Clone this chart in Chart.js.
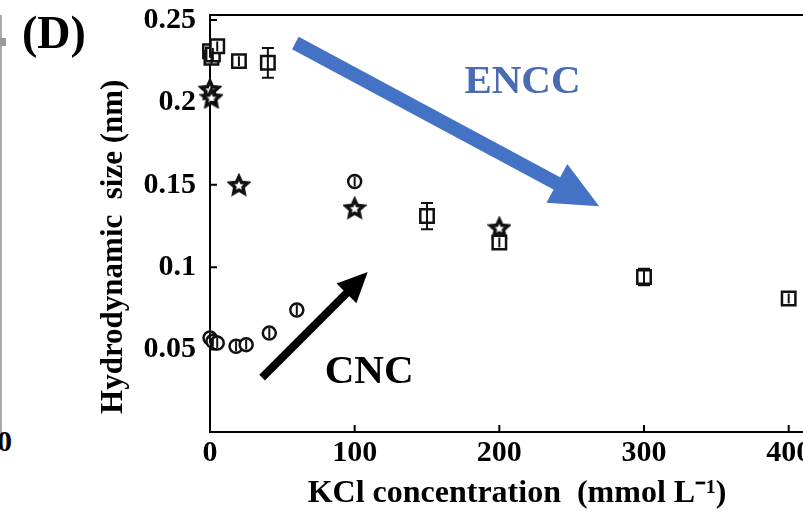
<!DOCTYPE html>
<html>
<head>
<meta charset="utf-8">
<script src="https://cdn.jsdelivr.net/npm/chart.js@4.4.1/dist/chart.umd.min.js"></script>
<style>
html, body { margin: 0; padding: 0; background: #fff; }
#frame { position: relative; width: 803px; height: 513px; overflow: hidden; }
#wrap { position: absolute; left: 0; top: 0; width: 860px; height: 513px; }
#panelD { position: absolute; left: 22px; top: 6px; font: bold 46px "Liberation Serif"; color: #000; }
#prevAxis { position: absolute; left: 0; top: 15px; width: 2px; height: 418px; background: #aaa; }
#prevMark { position: absolute; left: 0; top: 38px; width: 6px; height: 8px; background: #999; }
#prevZero { position: absolute; left: -3px; top: 424px; font: bold 30px "Liberation Serif"; color: #000; }
</style>
</head>
<body>
<div id="frame">
  <div id="prevAxis"></div>
  <div id="prevMark"></div>
  <div id="prevZero">0</div>
  <div id="wrap"><canvas id="sizeChart"></canvas></div>
  <div id="panelD">(D)</div>
</div>
<script>
// valores
const xTicks = [0, 100, 200, 300, 400];
const yTicks = [0.05, 0.1, 0.15, 0.2, 0.25];
const yTickLabels = ['0.05', '0.1', '0.15', '0.2', '0.25'];

// ENCC (quadrados, com barra de erro)
const enccX = [0, 1, 2, 5, 20, 40, 150, 200, 300, 400];
const enccY = [0.231, 0.227, 0.229, 0.234, 0.225, 0.224, 0.131, 0.115, 0.094, 0.081];
const enccErr = [0.004, 0.004, 0.004, 0.003, 0.003, 0.009, 0.008, 0.003, 0.005, 0.003];

// estrelas
const starX = [0, 1, 20, 100, 200];
const starY = [0.208, 0.203, 0.150, 0.136, 0.124];

// CNC (círculos)
const cncX = [0, 2, 5, 18, 25, 41, 60, 100];
const cncY = [0.057, 0.055, 0.054, 0.052, 0.053, 0.060, 0.074, 0.152];
const cncErr = [0.003, 0.003, 0.003, 0.003, 0.003, 0.003, 0.003, 0.003];

const serif = 'Liberation Serif';
const toPts = (xs, ys) => xs.map((x, i) => ({ x: x, y: ys[i] }));

// setas e rótulos (em unidades dos eixos)
const arrows = [
    { from: [59, 0.236], to: [269, 0.137], color: '#4472C4', width: 14, head: 48, headW: 44 },
    { from: [36, 0.033], to: [109, 0.097], color: '#000000', width: 8, head: 30, headW: 28 }
];
const notes = [
    { text: 'ENCC', x: 216, y: 0.212, color: '#4a6cb3' },
    { text: 'CNC', x: 110, y: 0.036, color: '#000000' }
];

function makeStar(r) {
    const c = document.createElement('canvas');
    const s = Math.ceil(r * 2 + 6);
    c.width = c.height = s;
    const g = c.getContext('2d');
    g.beginPath();
    for (let i = 0; i < 10; i++) {
        const rr = i % 2 ? r * 0.48 : r;
        const a = -Math.PI / 2 + i * Math.PI / 5;
        g.lineTo(s / 2 + rr * Math.cos(a), s / 2 + rr * Math.sin(a) + 1);
    }
    g.closePath();
    g.fillStyle = '#fff';
    g.fill();
    g.lineWidth = 3.5;
    g.lineJoin = 'miter';
    g.strokeStyle = '#111';
    g.stroke();
    return c;
}

const extras = {
    id: 'extras',
    afterDatasetsDraw(chart) {
        const { ctx, scales: { x, y } } = chart;
        ctx.save();
        ctx.strokeStyle = '#111';
        ctx.lineWidth = 2;
        chart.data.datasets.forEach(ds => {
            if (!ds.errorBars) return;
            ds.data.forEach((p, i) => {
                const e = ds.errorBars[i];
                const px = x.getPixelForValue(p.x);
                const y1 = y.getPixelForValue(p.y - e);
                const y2 = y.getPixelForValue(p.y + e);
                ctx.beginPath();
                ctx.moveTo(px, y1); ctx.lineTo(px, y2);
                if (y1 - y2 > 14) {
                    ctx.moveTo(px - 6, y1); ctx.lineTo(px + 6, y1);
                    ctx.moveTo(px - 6, y2); ctx.lineTo(px + 6, y2);
                }
                ctx.stroke();
            });
        });
        ctx.restore();
    },
    afterDraw(chart) {
        const { ctx, chartArea: a, scales: { x, y } } = chart;
        ctx.save();
        // moldura e ticks para dentro
        ctx.strokeStyle = '#000';
        ctx.lineWidth = 2;
        ctx.beginPath();
        ctx.moveTo(a.left, a.top); ctx.lineTo(a.right, a.top); ctx.lineTo(a.right, a.bottom);
        xTicks.forEach(v => {
            const px = x.getPixelForValue(v);
            ctx.moveTo(px, a.bottom); ctx.lineTo(px, a.bottom - 7);
        });
        yTicks.forEach(v => {
            const py = y.getPixelForValue(v);
            ctx.moveTo(a.left, py); ctx.lineTo(a.left + 7, py);
        });
        ctx.stroke();

        arrows.forEach(ar => {
            const x0 = x.getPixelForValue(ar.from[0]), y0 = y.getPixelForValue(ar.from[1]);
            const x1 = x.getPixelForValue(ar.to[0]), y1 = y.getPixelForValue(ar.to[1]);
            const ang = Math.atan2(y1 - y0, x1 - x0);
            const bx = x1 - ar.head * Math.cos(ang), by = y1 - ar.head * Math.sin(ang);
            ctx.strokeStyle = ar.color;
            ctx.fillStyle = ar.color;
            ctx.lineWidth = ar.width;
            ctx.lineCap = 'butt';
            ctx.beginPath();
            ctx.moveTo(x0, y0); ctx.lineTo(bx + 2 * Math.cos(ang), by + 2 * Math.sin(ang));
            ctx.stroke();
            const nx = -Math.sin(ang), ny = Math.cos(ang);
            ctx.beginPath();
            ctx.moveTo(x1, y1);
            ctx.lineTo(bx + nx * ar.headW / 2, by + ny * ar.headW / 2);
            ctx.lineTo(bx - nx * ar.headW / 2, by - ny * ar.headW / 2);
            ctx.closePath();
            ctx.fill();
        });

        ctx.font = 'bold 41px "' + serif + '"';
        ctx.textAlign = 'center';
        ctx.textBaseline = 'middle';
        notes.forEach(n => {
            ctx.fillStyle = n.color;
            ctx.fillText(n.text, x.getPixelForValue(n.x), y.getPixelForValue(n.y));
        });
        ctx.restore();
    }
};

const ctx = document.getElementById('sizeChart').getContext('2d');
new Chart(ctx, {
    type: 'scatter',
    data: {
        datasets: [
            {
                label: 'ENCC',
                data: toPts(enccX, enccY),
                errorBars: enccErr,
                pointStyle: 'rect',
                pointRadius: 9.5,
                borderWidth: 2.5,
                borderColor: '#111',
                backgroundColor: '#fff',
                clip: false
            },
            {
                label: 'estrela',
                data: toPts(starX, starY),
                pointStyle: makeStar(9),
                pointRadius: 10,
                clip: false
            },
            {
                label: 'CNC',
                data: toPts(cncX, cncY),
                errorBars: cncErr,
                pointStyle: 'circle',
                pointRadius: 6.5,
                borderWidth: 2.5,
                borderColor: '#111',
                backgroundColor: '#fff',
                clip: false
            }
        ]
    },
    options: {
        responsive: true,
        maintainAspectRatio: false,
        animation: false,
        layout: { padding: { left: 95, top: 15, right: 4, bottom: 0 } },
        plugins: {
            legend: { display: false },
            tooltip: { enabled: false }
        },
        scales: {
            x: {
                type: 'linear',
                min: 0,
                max: 441,
                afterBuildTicks: s => { s.ticks = xTicks.map(v => ({ value: v })); },
                afterFit: s => { s.height = 81; s.paddingLeft = 0; s.paddingRight = 0; },
                grid: { display: false, drawTicks: false },
                border: { display: true, color: '#000', width: 2 },
                ticks: {
                    color: '#000', padding: 3, maxRotation: 0, autoSkip: false,
                    font: { family: serif, size: 30, weight: 'bold' }
                },
                title: {
                    display: true,
                    text: 'KCl concentration  (mmol L⁻¹)\u00a0\u00a0\u00a0',
                    color: '#000',
                    font: { family: serif, size: 32, weight: 'bold' },
                    padding: { top: 0, bottom: 0 }
                }
            },
            y: {
                min: 0,
                max: 0.253,
                afterBuildTicks: s => { s.ticks = yTicks.map(v => ({ value: v })); },
                afterFit: s => { s.width = 115; s.paddingTop = 0; s.paddingBottom = 0; },
                grid: { display: false, drawTicks: false },
                border: { display: true, color: '#000', width: 2 },
                ticks: {
                    color: '#000', padding: 14,
                    font: { family: serif, size: 30, weight: 'bold' },
                    callback: (v, i) => yTickLabels[i]
                },
                title: {
                    display: true,
                    text: 'Hydrodynamic  size (nm)\u00a0\u00a0\u00a0\u00a0\u00a0\u00a0',
                    color: '#000',
                    font: { family: serif, size: 31, weight: 'bold' },
                    padding: { top: 0, bottom: 0 }
                }
            }
        }
    },
    plugins: [extras]
});
</script>
</body>
</html>
